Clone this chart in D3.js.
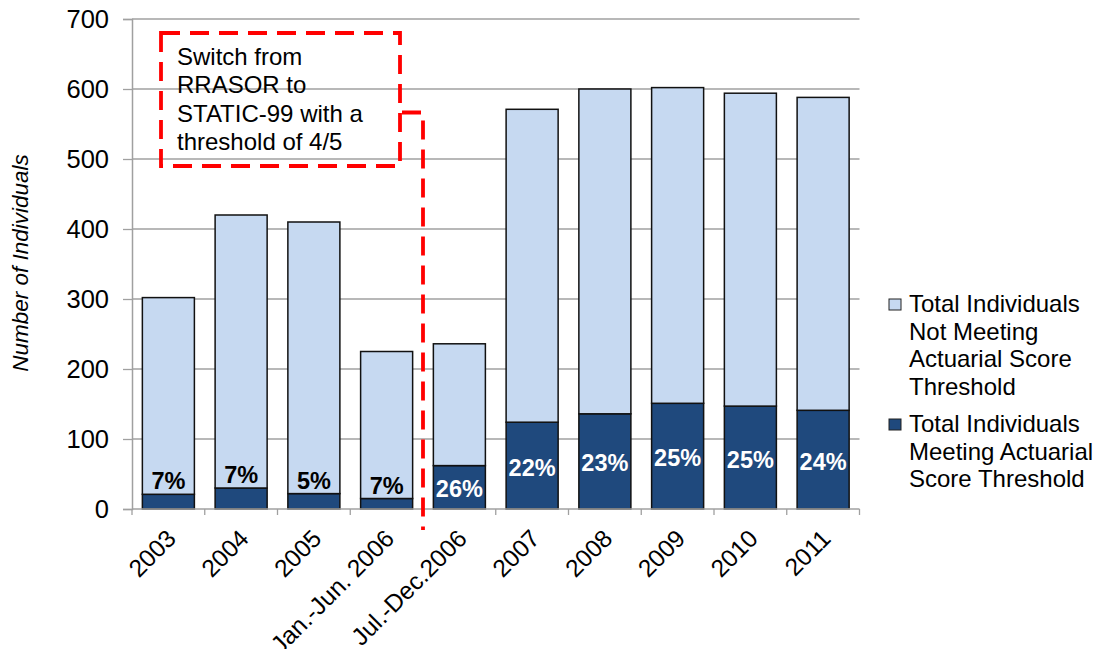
<!DOCTYPE html>
<html>
<head>
<meta charset="utf-8">
<script src="https://cdn.jsdelivr.net/npm/d3@7/dist/d3.min.js"></script>
<style>
  html, body { margin: 0; padding: 0; background: #fff; }
  svg { display: block; font-family: "Liberation Sans", Arial, sans-serif; }
</style>
</head>
<body>
<svg id="chart" width="1098" height="649"></svg>
<script>
// Periods on the category axis
const periods = ["2003", "2004", "2005", "Jan.-Jun. 2006", "Jul.-Dec.2006",
                 "2007", "2008", "2009", "2010", "2011"];
// Individuals meeting the actuarial score threshold
const meeting = [21, 30, 22, 15, 62, 124, 136, 151, 147, 141];
// Individuals not meeting the threshold
const notMeeting = [281, 390, 388, 210, 174, 447, 464, 451, 447, 447];
// Value axis ticks
const yTicks = [0, 100, 200, 300, 400, 500, 600, 700];
// Legend entries (text lines per entry)
const legendItems = [
  { key: "notMeeting", lines: ["Total Individuals", "Not Meeting", "Actuarial Score", "Threshold"] },
  { key: "meeting", lines: ["Total Individuals", "Meeting Actuarial", "Score Threshold"] }
];
const noteLines = ["Switch from", "RRASOR to", "STATIC-99 with a", "threshold of 4/5"];
// Period at which the scoring instrument changed
const switchPeriod = "Jul.-Dec.2006";

const colors = { meeting: "#1f497d", notMeeting: "#c6d9f1" };

const svg = d3.select("#chart");
const plot = { left: 132, right: 859.5, top: 19, bottom: 509 };

const x = d3.scaleBand().domain(periods)
  .range([plot.left, plot.right]).paddingInner(0.285).paddingOuter(0.1425);
const step = x.step();
const y = d3.scaleLinear().domain([0, 700]).range([plot.bottom, plot.top]);

const data = periods.map((p, i) => ({
  period: p, meeting: meeting[i], notMeeting: notMeeting[i],
  total: meeting[i] + notMeeting[i]
}));

// Gridlines
svg.append("g").selectAll("line").data(yTicks.filter(d => d > 0)).join("line")
  .attr("x1", plot.left).attr("x2", plot.right)
  .attr("y1", d => y(d)).attr("y2", d => y(d))
  .attr("stroke", "#a0a0a0").attr("stroke-width", 1.3);

// Y axis
const yAxis = svg.append("g").attr("transform", `translate(${plot.left},0)`)
  .call(d3.axisLeft(y).tickValues(yTicks).tickSize(9).tickPadding(14));
yAxis.select(".domain").attr("stroke", "#a0a0a0").attr("stroke-width", 1.5);
yAxis.selectAll(".tick line").attr("stroke", "#a0a0a0").attr("stroke-width", 1.3);
yAxis.selectAll(".tick text").attr("font-size", 25.5).attr("fill", "#000")
  .attr("font-family", "Liberation Sans, Arial, sans-serif");

// Stacked bars
const stack = d3.stack().keys(["meeting", "notMeeting"])(data);
const bw = x.bandwidth();
svg.append("g").selectAll("g").data(stack).join("g")
  .attr("fill", d => colors[d.key])
  .selectAll("rect").data(d => d).join("rect")
  .attr("x", d => x(d.data.period))
  .attr("width", bw)
  .attr("y", d => y(d[1]))
  .attr("height", d => y(d[0]) - y(d[1]))
  .attr("stroke", "#111").attr("stroke-width", 1.5);

// X axis
const xAxisG = svg.append("g").attr("transform", `translate(0,${plot.bottom})`);
xAxisG.append("line").attr("x1", plot.left).attr("x2", plot.right)
  .attr("stroke", "#a0a0a0").attr("stroke-width", 1.5);
const boundaries = d3.range(periods.length + 1).map(i => plot.left + i * step);
xAxisG.selectAll(".xt").data(boundaries).join("line").attr("class", "xt")
  .attr("x1", d => d).attr("x2", d => d).attr("y1", 0).attr("y2", 6)
  .attr("stroke", "#a0a0a0").attr("stroke-width", 1.3);
xAxisG.selectAll(".xl").data(periods).join("text").attr("class", "xl")
  .attr("transform", d => `translate(${x(d) + bw / 2 + 3},${25}) rotate(-45)`)
  .attr("text-anchor", "end").attr("dy", "0.35em")
  .attr("font-size", 24.5).attr("fill", "#000")
  .text(d => d);

// Percentage labels
svg.append("g").selectAll("text").data(data).join("text")
  .attr("x", d => x(d.period) + bw / 2)
  .attr("y", d => {
    const segH = y(0) - y(d.meeting);
    return segH < 40 ? y(d.meeting) - 5 : (y(0) + y(d.meeting)) / 2 + 10;
  })
  .attr("text-anchor", "middle")
  .attr("font-size", 23.5).attr("font-weight", "bold")
  .attr("fill", d => (y(0) - y(d.meeting)) < 40 ? "#000" : "#fff")
  .text(d => d3.format(".0%")(d.meeting / d.total));

// Y axis title
svg.append("text")
  .attr("transform", "translate(28,263) rotate(-90)")
  .attr("text-anchor", "middle").attr("font-size", 22.5).attr("font-style", "italic")
  .attr("fill", "#000").text("Number of Individuals");

// Legend
const legend = svg.append("g");
const legendStarts = [312, 432];
legendItems.forEach((item, k) => {
  const g = legend.append("g");
  const b0 = legendStarts[k];
  g.append("rect").attr("x", 889).attr("y", b0 - 13).attr("width", 12).attr("height", 11)
    .attr("fill", colors[item.key]).attr("stroke", "#222").attr("stroke-width", 1);
  g.append("text").attr("x", 909).attr("y", b0).attr("font-size", 24).attr("fill", "#000")
    .selectAll("tspan").data(item.lines).join("tspan")
    .attr("x", 909).attr("dy", (d, i) => i === 0 ? 0 : 27.7).text(d => d);
});

// Annotation box and connector to the switch point
const note = svg.append("g");
const dash = "19 10";
note.append("rect").attr("x", 161).attr("y", 33).attr("width", 239).attr("height", 133)
  .attr("fill", "none").attr("stroke", "#ff0000").attr("stroke-width", 3.8)
  .attr("stroke-dasharray", dash);
const sx = x(switchPeriod) - (step - bw) / 2;
note.append("path")
  .attr("d", `M402,112.5 H${sx} V530`)
  .attr("fill", "none").attr("stroke", "#ff0000").attr("stroke-width", 3.8)
  .attr("stroke-dasharray", dash);
note.append("text").attr("font-size", 24).attr("fill", "#000")
  .selectAll("tspan").data(noteLines).join("tspan")
  .attr("x", 177).attr("y", (d, i) => 65 + i * 28.3).text(d => d);
</script>
</body>
</html>
